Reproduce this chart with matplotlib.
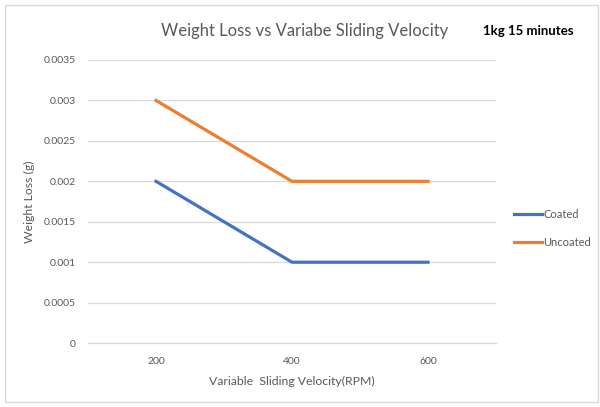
import matplotlib
matplotlib.use("Agg")
import matplotlib.pyplot as plt
from matplotlib.patches import Rectangle

categories = ["200", "400", "600"]
coated = [0.002, 0.001, 0.001]
uncoated = [0.003, 0.002, 0.002]
y_ticks = [0, 0.0005, 0.001, 0.0015, 0.002, 0.0025, 0.003, 0.0035]
y_tick_labels = ["0", "0.0005", "0.001", "0.0015", "0.002", "0.0025", "0.003", "0.0035"]

plt.rcParams["font.family"] = ["Lato", "DejaVu Sans"]
text_gray = "#595959"

fig = plt.figure(figsize=(6.0, 4.07), dpi=100)
fig.patches.append(Rectangle((0.008, 0.012), 0.988, 0.976, transform=fig.transFigure,
                             fill=False, edgecolor="#D9D9D9", linewidth=1.0))

ax = fig.add_axes([0.1467, 0.157, 0.68, 0.6956])
x = list(range(len(categories)))
ax.plot(x, coated, color="#4472C4", linewidth=2.3, label="Coated")
ax.plot(x, uncoated, color="#ED7D31", linewidth=2.3, label="Uncoated")

ax.set_xlim(-0.5, len(categories) - 0.5)
ax.set_ylim(0, 0.0035)
ax.set_xticks(x)
ax.set_xticklabels(categories)
ax.set_yticks(y_ticks)
ax.set_yticklabels(y_tick_labels)
ax.tick_params(axis="both", length=0, labelsize=7.5, labelcolor=text_gray)
ax.tick_params(axis="x", pad=10)
ax.tick_params(axis="y", pad=9)
ax.grid(axis="y", color="#D9D9D9", linewidth=0.9)
ax.set_axisbelow(True)
for side in ["top", "right", "left"]:
    ax.spines[side].set_visible(False)
ax.spines["bottom"].set_color("#D9D9D9")
ax.spines["bottom"].set_linewidth(0.9)

ax.set_xlabel("Variable  Sliding Velocity(RPM)", fontsize=8.8, color=text_gray, labelpad=7)
ax.set_ylabel("Weight Loss (g)", fontsize=8.8, color=text_gray, labelpad=6)

fig.text(0.508, 0.925, "Weight Loss vs Variabe Sliding Velocity", ha="center", va="center",
         fontsize=12, color=text_gray)
fig.text(0.805, 0.925, "1kg 15 minutes", ha="left", va="center", fontsize=9.5,
         fontweight="bold", color="black")

ax.legend(loc="center left", bbox_to_anchor=(1.02, 0.405), frameon=False, fontsize=8,
          labelcolor=text_gray, handlelength=2.5, handletextpad=0.1, labelspacing=1.6)

fig.savefig("out.png", dpi=100)
